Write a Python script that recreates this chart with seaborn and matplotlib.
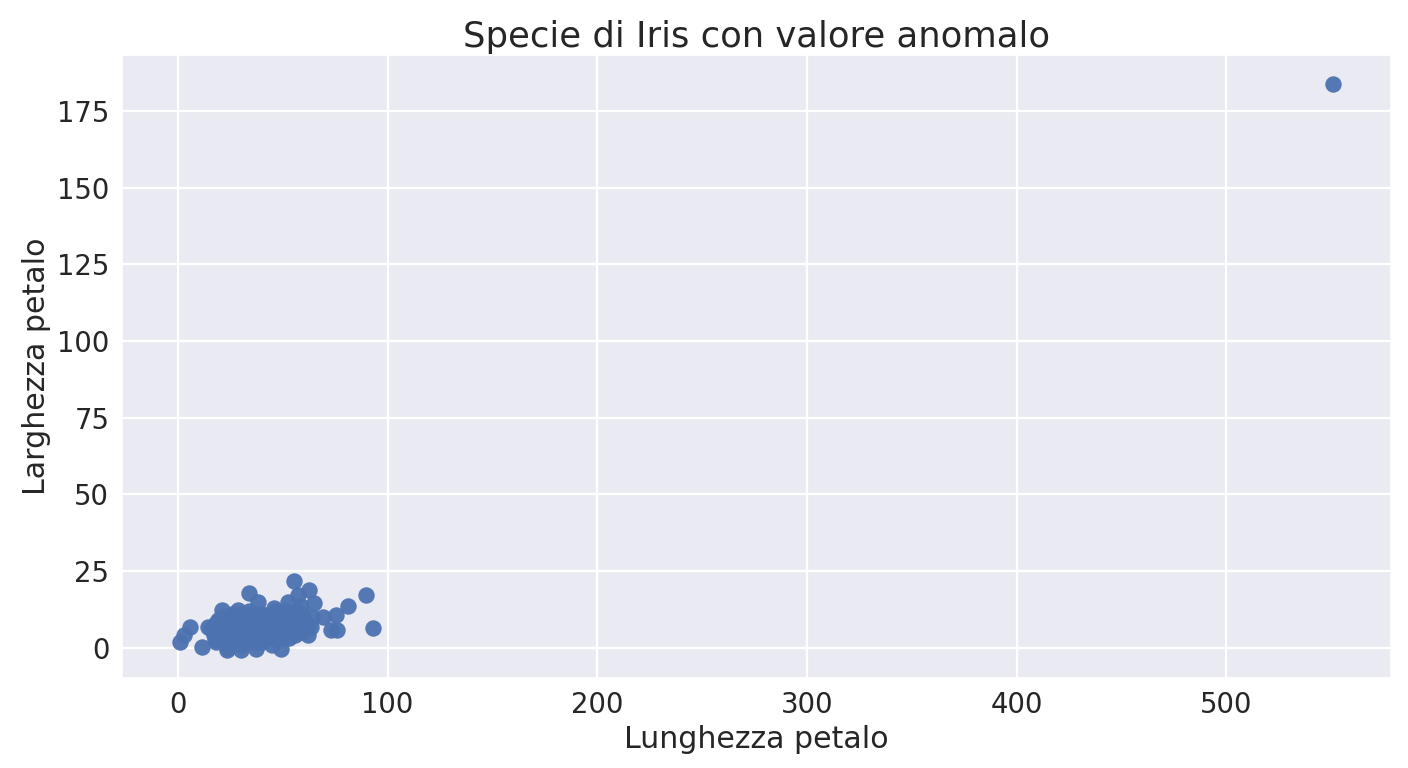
import matplotlib
matplotlib.use("Agg")
import matplotlib.pyplot as plt
import seaborn as sns
import pandas as pd

# Petal length / width values (last point is the outlier)
lunghezza = [
    1.1, 2.7, 5.8, 11.4, 14.5, 17.7, 20.9, 23.2, 28.8, 30.3, 34.0, 37.4,
    38.2, 46.0, 49.3, 52.5, 55.6, 57.2, 58.8, 62.0, 62.7, 63.5, 65.0, 69.0,
    73.0, 75.4, 76.0, 80.9, 89.9, 93.2,
    16, 18, 19, 20, 21, 22, 23, 24, 25, 26, 27, 28, 29, 30, 31, 32, 33, 34,
    35, 36, 37, 38, 39, 40, 41, 42, 43, 44, 45, 46, 47, 48, 49, 50, 51, 52,
    53, 54, 55, 56, 57, 58, 59, 60,
    18, 20, 22, 24, 26, 28, 30, 32, 34, 36, 38, 40, 42, 44, 46, 48, 50, 52,
    54, 56, 58, 60, 62, 64,
    17, 21, 25, 29, 33, 37, 41, 45, 49, 53, 57, 61,
    19, 23, 27, 31, 35, 39, 43, 47, 51, 55, 59,
    22, 26, 30, 34, 38, 42, 46, 50, 54, 58, 24, 32, 40, 48, 56,
    551.0,
]
larghezza = [
    1.7, 4.2, 6.9, 0.2, 6.9, 2.6, 12.4, -0.7, 12.4, -0.7, 18.0, -0.4,
    15.0, 13.0, -0.4, 15.0, 21.9, 17.2, 13.5, 4.2, 18.9, 6.9, 14.5, 10.0,
    5.9, 10.7, 5.9, 13.5, 17.3, 6.4,
    6, 8, 4, 9, 5, 7, 3, 8, 10, 6, 4, 9, 7, 11, 5, 8, 3, 10,
    6, 9, 4, 7, 11, 8, 5, 9, 10, 6, 3, 11, 8, 5, 9, 7, 12, 6,
    10, 8, 11, 9, 7, 10, 5, 8,
    2, 5, 9, 2, 8, 4, 6, 3, 7, 5, 2, 11, 6, 9, 4, 7, 10, 5,
    8, 11, 6, 9, 7, 10,
    4, 10, 1, 3, 5, 2, 4, 1, 6, 3, 12, 8,
    9, 1, 10, 9, 11, 6, 3, 12, 4, 5, 11,
    6, 11, 1, 12, 9, 7, 6, 3, 9, 11, 0, 8, 2, 7, 4,
    184.0,
]

df = pd.DataFrame({"Lunghezza petalo": lunghezza, "Larghezza petalo": larghezza})

sns.set_theme(style="darkgrid", font_scale=1.8,
              rc={"grid.linewidth": 1.6})
plt.rcParams["font.family"] = ["DejaVu Sans"]

fig, ax = plt.subplots(figsize=(14.08, 7.68), dpi=100)
sns.scatterplot(data=df, x="Lunghezza petalo", y="Larghezza petalo",
                s=140, color="#4c72b0", linewidth=0, alpha=0.95, ax=ax)

ax.set_title("Specie di Iris con valore anomalo", fontsize=25.5)
ax.set_xlabel("Lunghezza petalo")
ax.set_ylabel("Larghezza petalo")

plt.subplots_adjust(left=0.087, right=0.988, top=0.928, bottom=0.117)
plt.savefig("out.png", dpi=100)
